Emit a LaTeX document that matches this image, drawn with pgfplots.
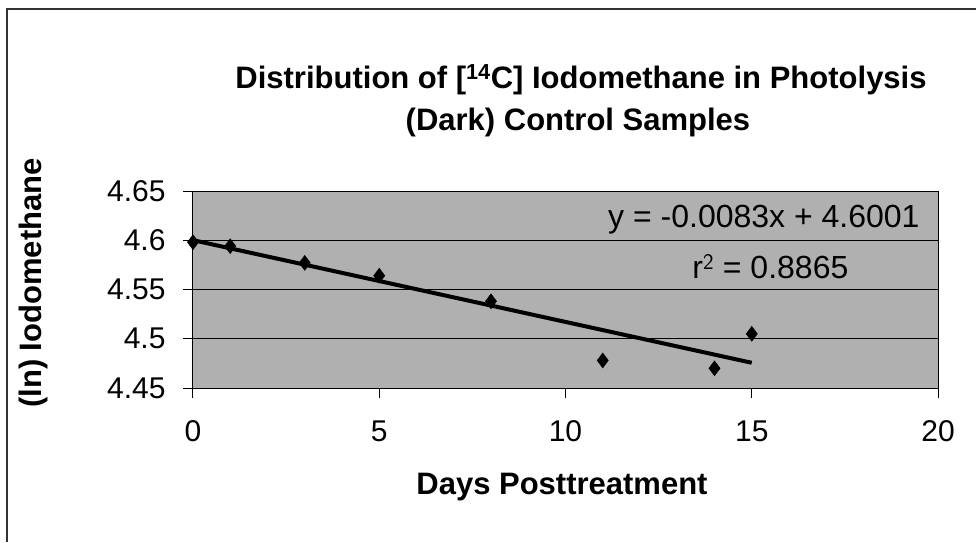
\documentclass[border=0pt]{standalone}
\usepackage{fontspec}
\setmainfont{Liberation Sans}
\usepackage{pgfplots}
\pgfplotsset{compat=1.18}
\definecolor{plotgray}{gray}{0.69}
\begin{document}
\begin{tikzpicture}[x=1pt,y=1pt]
\useasboundingbox (-193,-154) rectangle (783,388);
\draw[line width=1.5pt, black!80] (-186,-154) -- (-186,379) -- (783,379);
\begin{axis}[at={(0,0)}, anchor=south west, scale only axis,
  width=745pt, height=197pt,
  xmin=0, xmax=20, ymin=4.45, ymax=4.65,
  xtick={0,5,10,15,20}, ytick={4.45,4.5,4.55,4.6,4.65},
  axis background/.style={fill=plotgray},
  axis line style={black, line width=1pt},
  ymajorgrids, major grid style={black, line width=0.9pt},
  tick style={black, line width=1pt},
  tick align=outside, major tick length=10pt,
  xtick pos=bottom, ytick pos=left,
  /pgf/number format/assume math mode=true,
  ticklabel style={font=\fontsize{30}{34}\selectfont},
  xticklabel style={yshift=-19pt},
  yticklabel style={xshift=-14pt},
  clip=false,
]
\addplot[only marks, mark=diamond*, mark size=7.5pt, black] coordinates {
  (0,4.598) (1,4.594) (3,4.577) (5,4.564) (8,4.538) (11,4.478) (14,4.470) (15,4.505)
};
\addplot[black, line width=4pt] coordinates {(0,4.6001) (15,4.4756)};
\node[anchor=east, font=\fontsize{32}{36}\selectfont] at (axis cs:19.6,4.6206) {y = -0.0083x + 4.6001};
\node[font=\fontsize{32}{36}\selectfont] at (axis cs:15.5,4.573) {r$^{\mathsf{2}}$ = 0.8865};
\end{axis}
\node[font=\bfseries\fontsize{31}{35}\selectfont] at (388,308) {Distribution of [\textsuperscript{14}C] Iodomethane in Photolysis};
\node[font=\bfseries\fontsize{31}{35}\selectfont] at (385,266) {(Dark) Control Samples};
\node[font=\bfseries\fontsize{31}{35}\selectfont, rotate=90] at (-160,105) {(ln) Iodomethane};
\node[font=\bfseries\fontsize{31}{35}\selectfont] at (369,-99) {Days Posttreatment};
\end{tikzpicture}
\end{document}
